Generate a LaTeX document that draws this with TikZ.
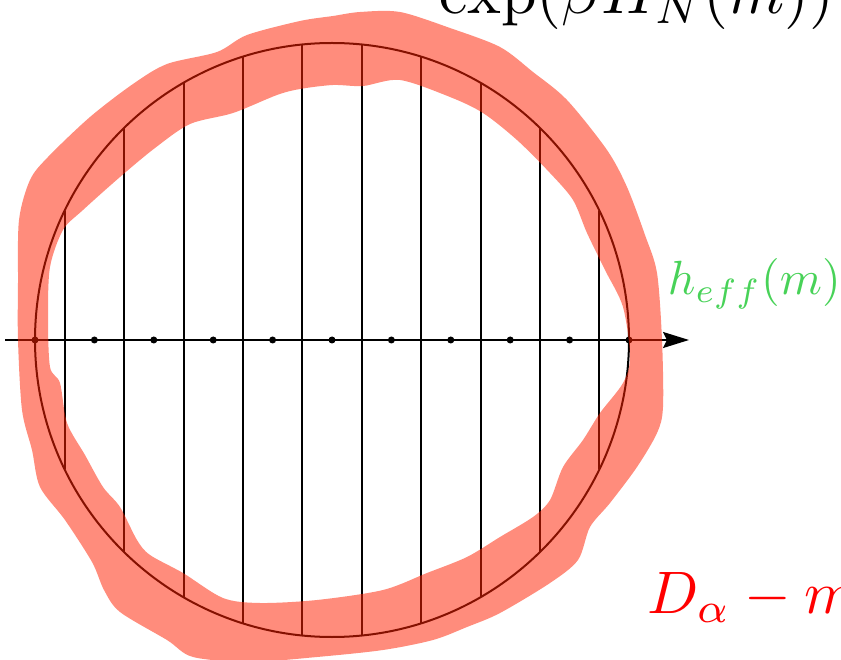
\documentclass[tikz,border=0pt]{standalone}
\usetikzlibrary{arrows.meta}
\definecolor{blobred}{RGB}{255,34,3}
\definecolor{effgreen}{RGB}{72,210,88}
\definecolor{txtred}{RGB}{255,0,0}
\tikzset{
  gridline/.style={line width=2pt, black},
  ring/.style={circle, draw=black, line width=2pt, minimum size=594pt, inner sep=0pt},
  dot/.style={circle, fill=black, minimum size=7pt, inner sep=0pt},
  axisline/.style={line width=2pt, -{Stealth[length=26pt,width=16pt,inset=4pt]}},
  blob/.style={fill=blobred, fill opacity=0.52, even odd rule},
  lbl/.style={anchor=base west, inner sep=0pt}
}
\begin{document}
\begin{tikzpicture}[x=1pt,y=-1pt]
\useasboundingbox (0,0) rectangle (841,660);
\clip (0,0) rectangle (841,660);
% circle
\node[ring] (C) at (332,340) {};
% vertical chords
\foreach \j in {-5,...,4} {
  \pgfmathsetmacro\dx{(\j+0.5)*59.4}
  \pgfmathsetmacro\dy{59.4*sqrt(25-(\j+0.5)^2)}
  \coordinate (t\j) at ({332+\dx},{340-\dy});
  \coordinate (b\j) at ({332+\dx},{340+\dy});
  \draw[gridline] (t\j) -- (b\j);
}
% axis
\coordinate (axl) at (5,340);
\coordinate (axr) at (689,340);
\draw[axisline] (axl) -- (axr);
\foreach \k in {-5,...,5} {
  \node[dot] (d\k) at ({332+59.4*\k},340) {};
}
% blob ring
\fill[blob]
  plot[smooth cycle, tension=0.5] coordinates {
   (18,340) (18,283) (19,220) (30,180) (48,157) (90,117)
   (133,84) (167,64) (217,52) (247,35) (300,21) (333,16)
   (360,12) (400,12) (450,28) (500,47) (533,72) (567,100) (607,150)
   (627,187) (645,235) (657,273) (662,340) (663,407) (657,433)
   (637,467) (610,503) (590,527) (578,560) (550,583) (500,613)
   (467,627) (433,640) (383,650) (317,657) (250,662) (193,657) (167,640)
   (120,612) (104,590) (92,562) (65,520) (40,487) (32,450) (22,410)}
  plot[smooth cycle, tension=0.5] coordinates {
   (48,317) (50,267) (63,230) (83,210) (120,177) (155,148) (190,124)
   (233,113) (277,95) (300,89) (333,85) (363,86) (400,80)
   (450,97) (483,113) (517,140) (550,173) (573,200) (587,233)
   (605,270) (623,307) (630,357) (623,383) (600,413) (583,440)
   (563,467) (550,500) (533,517) (500,537) (467,557) (427,573) (383,590)
   (317,600) (260,603) (223,598) (183,573) (150,555) (137,540) (120,507)
   (103,487) (85,455) (67,423) (60,383) (50,367)};
% labels
\node[lbl, scale=6.4] (expl) at (438,14) {$\exp(\beta H_N(m))$};
\node[lbl, text=effgreen, scale=4.8] (heff) at (667,295) {$h_{eff}(m)$};
\node[lbl, text=txtred, scale=6.0] (dam) at (646,613) {$D_\alpha - m$};
\end{tikzpicture}
\end{document}
